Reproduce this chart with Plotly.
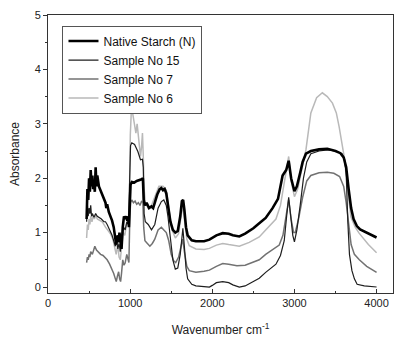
import plotly.graph_objects as go

# ---- data ----
wn_native = [470,480,490,500,510,520,530,540,550,560,570,580,590,600,620,650,680,700,710,720,740,760,780,800,820,830,850,860,870,880,895,910,925,940,955,965,975,985,995,1005,1020,1050,1080,1110,1140,1155,1165,1180,1200,1230,1260,1280,1300,1330,1360,1380,1400,1420,1440,1460,1490,1520,1550,1580,1610,1630,1645,1660,1680,1700,1750,1800,1900,1965,2050,2127,2200,2250,2329,2400,2500,2572,2650,2734,2800,2856,2900,2930,2960,3000,3030,3070,3100,3140,3200,3300,3400,3500,3560,3600,3630,3660,3690,3720,3760,3800,3900,4000]
abs_native = [1.25,1.8,1.6,2.0,1.75,2.15,1.85,2.05,1.8,1.95,1.75,2.2,1.85,2.05,1.85,1.75,1.65,1.55,1.45,1.52,1.38,1.3,1.22,1.1,0.85,0.78,0.95,0.82,1.0,0.85,0.7,1.1,1.3,1.25,1.3,1.22,1.3,1.1,1.5,1.88,1.93,1.92,1.95,1.96,1.98,2.0,1.6,1.5,1.55,1.45,1.48,1.45,1.55,1.7,1.8,1.82,1.78,1.8,1.72,1.5,1.2,1.05,1.0,1.03,1.3,1.58,1.6,1.42,1.1,0.95,0.86,0.84,0.84,0.87,0.95,0.99,0.98,0.95,0.93,0.98,1.08,1.17,1.27,1.45,1.62,2.05,2.15,2.32,2.0,1.76,1.85,2.1,2.3,2.45,2.5,2.53,2.54,2.5,2.46,2.38,2.2,1.8,1.45,1.25,1.12,1.06,0.98,0.91]

wn_s15 = [470,480,490,500,510,520,530,540,560,580,600,620,650,680,700,720,750,780,800,820,835,850,865,880,900,920,940,960,980,993,1005,1020,1054,1094,1126,1150,1160,1170,1185,1220,1260,1300,1340,1380,1410,1440,1460,1490,1520,1550,1580,1610,1630,1642,1660,1680,1700,1750,1800,1900,1965,2000,2050,2127,2200,2250,2329,2400,2480,2572,2650,2700,2775,2830,2876,2905,2930,2955,2980,3000,3030,3070,3110,3150,3200,3300,3400,3500,3580,3610,3630,3650,3670,3700,3730,3763,3850,4000]
abs_s15 = [1.2,1.5,1.3,1.45,1.35,1.5,1.3,1.35,1.28,1.35,1.3,1.28,1.25,1.2,1.2,1.15,1.05,0.95,0.85,0.75,0.85,0.7,0.8,0.65,0.9,1.1,1.05,1.2,1.15,1.9,2.6,2.65,2.62,2.49,2.34,2.35,2.2,1.35,1.2,1.15,1.05,1.15,1.45,1.57,1.6,1.5,1.3,0.9,0.5,0.33,0.35,0.6,1.0,1.08,0.75,0.35,0.15,0.05,0.02,0.0,0.0,0.03,0.08,0.1,0.08,0.04,0.0,0.02,0.08,0.16,0.27,0.33,0.42,0.58,0.85,1.3,1.65,1.3,0.95,0.83,1.05,1.5,2.0,2.3,2.45,2.5,2.52,2.5,2.45,2.35,2.1,1.2,0.6,0.3,0.15,0.05,0.02,0.0]

wn_s7 = [470,480,490,500,510,520,540,560,570,590,610,640,670,700,720,750,780,800,820,831,845,860,872,884,895,910,925,939,959,975,985,995,1005,1020,1040,1060,1080,1100,1120,1140,1155,1165,1180,1210,1240,1270,1300,1340,1380,1410,1440,1470,1500,1530,1555,1590,1620,1640,1660,1690,1720,1800,1900,1965,2050,2127,2200,2300,2400,2500,2572,2650,2734,2815,2860,2900,2930,2960,2990,3010,3050,3100,3150,3200,3300,3400,3480,3550,3600,3630,3660,3690,3730,3790,3880,4000]
abs_s7 = [0.45,0.55,0.5,0.6,0.55,0.65,0.6,0.72,0.75,0.68,0.65,0.6,0.58,0.53,0.5,0.42,0.32,0.25,0.15,0.1,0.2,0.28,0.15,0.1,0.25,0.5,0.4,0.44,0.6,0.5,0.45,1.2,1.55,1.6,1.55,1.58,1.52,1.55,1.5,1.58,1.55,1.1,0.85,0.8,0.75,0.8,0.88,1.05,1.1,1.05,1.0,0.85,0.6,0.48,0.45,0.55,0.75,0.88,0.65,0.38,0.3,0.27,0.29,0.31,0.38,0.43,0.42,0.39,0.4,0.46,0.5,0.6,0.68,0.77,0.95,1.3,1.6,1.25,1.0,1.0,1.25,1.65,1.95,2.05,2.1,2.11,2.09,2.03,1.85,1.55,1.1,0.78,0.6,0.5,0.38,0.27]

wn_s6 = [470,480,490,500,510,520,535,550,565,580,600,630,660,700,730,760,790,810,830,850,865,880,895,915,935,955,975,990,1002,1015,1030,1050,1070,1085,1105,1126,1140,1150,1160,1170,1185,1220,1260,1300,1350,1400,1440,1470,1510,1550,1590,1620,1640,1660,1690,1720,1800,1900,1965,2050,2127,2200,2329,2450,2572,2650,2775,2830,2870,2900,2930,2960,3000,3040,3100,3140,3200,3270,3340,3400,3463,3510,3544,3605,3645,3687,3740,3787,3900,4000]
abs_s6 = [0.9,1.15,1.05,1.25,1.15,1.3,1.2,1.3,1.25,1.32,1.25,1.22,1.2,1.1,1.05,0.98,0.88,0.75,0.6,0.78,0.55,0.5,0.75,1.0,0.95,1.15,1.2,1.5,2.8,3.26,3.2,3.0,2.83,3.0,2.7,2.4,2.6,2.83,2.4,1.8,1.55,1.45,1.5,1.65,1.85,1.85,1.78,1.45,1.05,0.9,0.98,1.3,1.5,1.25,0.88,0.76,0.7,0.69,0.71,0.77,0.8,0.78,0.75,0.82,0.92,1.05,1.25,1.5,1.85,2.1,2.4,1.95,1.66,1.8,2.2,2.52,3.2,3.48,3.57,3.5,3.38,3.2,2.95,2.4,1.85,1.29,1.1,0.99,0.78,0.63]

x_ticks = [0, 1000, 2000, 3000, 4000]
y_ticks = [0, 1, 2, 3, 4, 5]

FONT = "Arial, Liberation Sans, sans-serif"

fig = go.Figure()
# drawn back-to-front; legend reversed so Native is listed first
fig.add_trace(go.Scatter(x=wn_s6, y=abs_s6, mode="lines", name="Sample No 6",
                         line=dict(color="#b9b9b9", width=1.5)))
fig.add_trace(go.Scatter(x=wn_s7, y=abs_s7, mode="lines", name="Sample No 7",
                         line=dict(color="#727272", width=1.5)))
fig.add_trace(go.Scatter(x=wn_s15, y=abs_s15, mode="lines", name="Sample No 15",
                         line=dict(color="#1e1e1e", width=1.2)))
fig.add_trace(go.Scatter(x=wn_native, y=abs_native, mode="lines", name="Native Starch (N)",
                         line=dict(color="#000000", width=2.6)))

# the page body has an 8px default margin, so the figure is sized to fit the window
fig.update_layout(
    width=396, height=330,
    margin=dict(l=40, r=11, t=7, b=45, autoexpand=False),
    paper_bgcolor="white", plot_bgcolor="white",
    font=dict(family=FONT, size=11, color="#222"),
    showlegend=True,
    legend=dict(
        x=0.042, y=0.962, xanchor="left", yanchor="top",
        traceorder="reversed",
        bordercolor="#555", borderwidth=1, bgcolor="white",
        font=dict(family=FONT, size=12, color="#111"),
        itemwidth=30, tracegroupgap=0,
    ),
    xaxis=dict(
        range=[0, 4200], tickvals=x_ticks, ticktext=[str(v) for v in x_ticks],
        showgrid=False, zeroline=False, automargin=False,
        showline=True, linecolor="#333", linewidth=1, mirror=True,
        ticks="inside", ticklen=4, tickcolor="#333",
        minor=dict(dtick=500, tick0=0, ticks="inside", ticklen=2, tickcolor="#333"),
        title=dict(text="Wavenumber cm<sup>-1</sup>", font=dict(size=12, family=FONT), standoff=17),
        tickfont=dict(size=11),
    ),
    yaxis=dict(
        range=[-0.11, 5.0], tickvals=y_ticks, ticktext=[str(v) for v in y_ticks],
        showgrid=False, zeroline=False, automargin=False,
        showline=True, linecolor="#333", linewidth=1, mirror=True,
        ticks="outside", ticklen=4, tickcolor="#333",
        minor=dict(dtick=0.5, tick0=0, ticks="outside", ticklen=2, tickcolor="#333"),
        title=dict(text="Absorbance", font=dict(size=12, family=FONT), standoff=15),
        tickfont=dict(size=11),
    ),
)

fig.write_html("out.html")
